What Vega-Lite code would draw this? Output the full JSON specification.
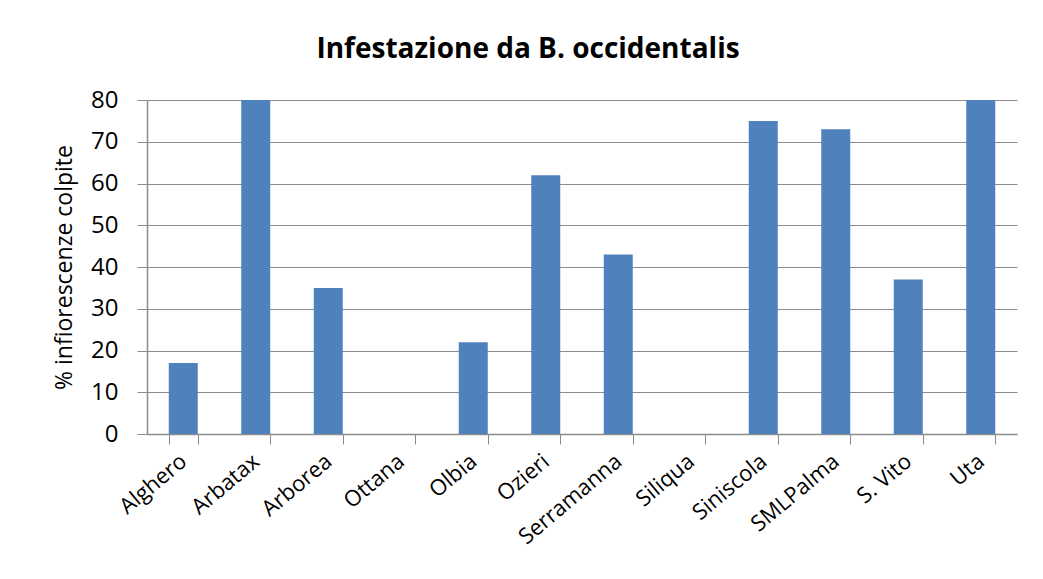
{
  "$schema": "https://vega.github.io/schema/vega-lite/v6.json",
  "autosize": "none",
  "padding": {"left": 147, "top": 100, "right": 26, "bottom": 145},
  "width": 870,
  "height": 334,
  "background": "white",
  "title": {
    "text": "Infestazione da B. occidentalis",
    "font": "Open Sans",
    "fontSize": 28,
    "fontWeight": "bold",
    "color": "#000000",
    "anchor": "middle",
    "dx": -54,
    "offset": 24
  },
  "data": {
    "values": [
      {"sito": "Alghero", "pct": 17},
      {"sito": "Arbatax", "pct": 80},
      {"sito": "Arborea", "pct": 35},
      {"sito": "Ottana", "pct": 0},
      {"sito": "Olbia", "pct": 22},
      {"sito": "Ozieri", "pct": 62},
      {"sito": "Serramanna", "pct": 43},
      {"sito": "Siliqua", "pct": 0},
      {"sito": "Siniscola", "pct": 75},
      {"sito": "SMLPalma", "pct": 73},
      {"sito": "S. Vito", "pct": 37},
      {"sito": "Uta", "pct": 80}
    ]
  },
  "mark": {"type": "bar", "color": "#4f81bd"},
  "encoding": {
    "x": {
      "field": "sito",
      "type": "nominal",
      "sort": null,
      "scale": {"paddingInner": 0.6, "paddingOuter": 0.3},
      "axis": {
        "title": null,
        "labelAngle": -40,
        "labelAlign": "right",
        "labelBaseline": "middle",
        "labelFont": "Open Sans",
        "labelFontSize": 22,
        "labelColor": "#000000",
        "labelPadding": 14,
        "tickBand": "extent",
        "tickSize": 10,
        "tickColor": "#8c8c8c",
        "domainColor": "#8c8c8c",
        "domainWidth": 1.5,
        "grid": false
      }
    },
    "y": {
      "field": "pct",
      "type": "quantitative",
      "scale": {"domain": [0, 80], "nice": false},
      "axis": {
        "title": "% infiorescenze colpite",
        "titleFont": "Open Sans",
        "titleFontSize": 23,
        "titleFontWeight": "normal",
        "titleColor": "#000000",
        "titlePadding": 14,
        "values": [0, 10, 20, 30, 40, 50, 60, 70, 80],
        "labelFont": "Open Sans",
        "labelFontSize": 24,
        "labelColor": "#000000",
        "labelPadding": 19,
        "tickSize": 10,
        "tickColor": "#8c8c8c",
        "domainColor": "#8c8c8c",
        "domainWidth": 1.5,
        "gridColor": "#8c8c8c",
        "gridWidth": 1.2
      }
    }
  },
  "config": {"view": {"stroke": null}}
}
